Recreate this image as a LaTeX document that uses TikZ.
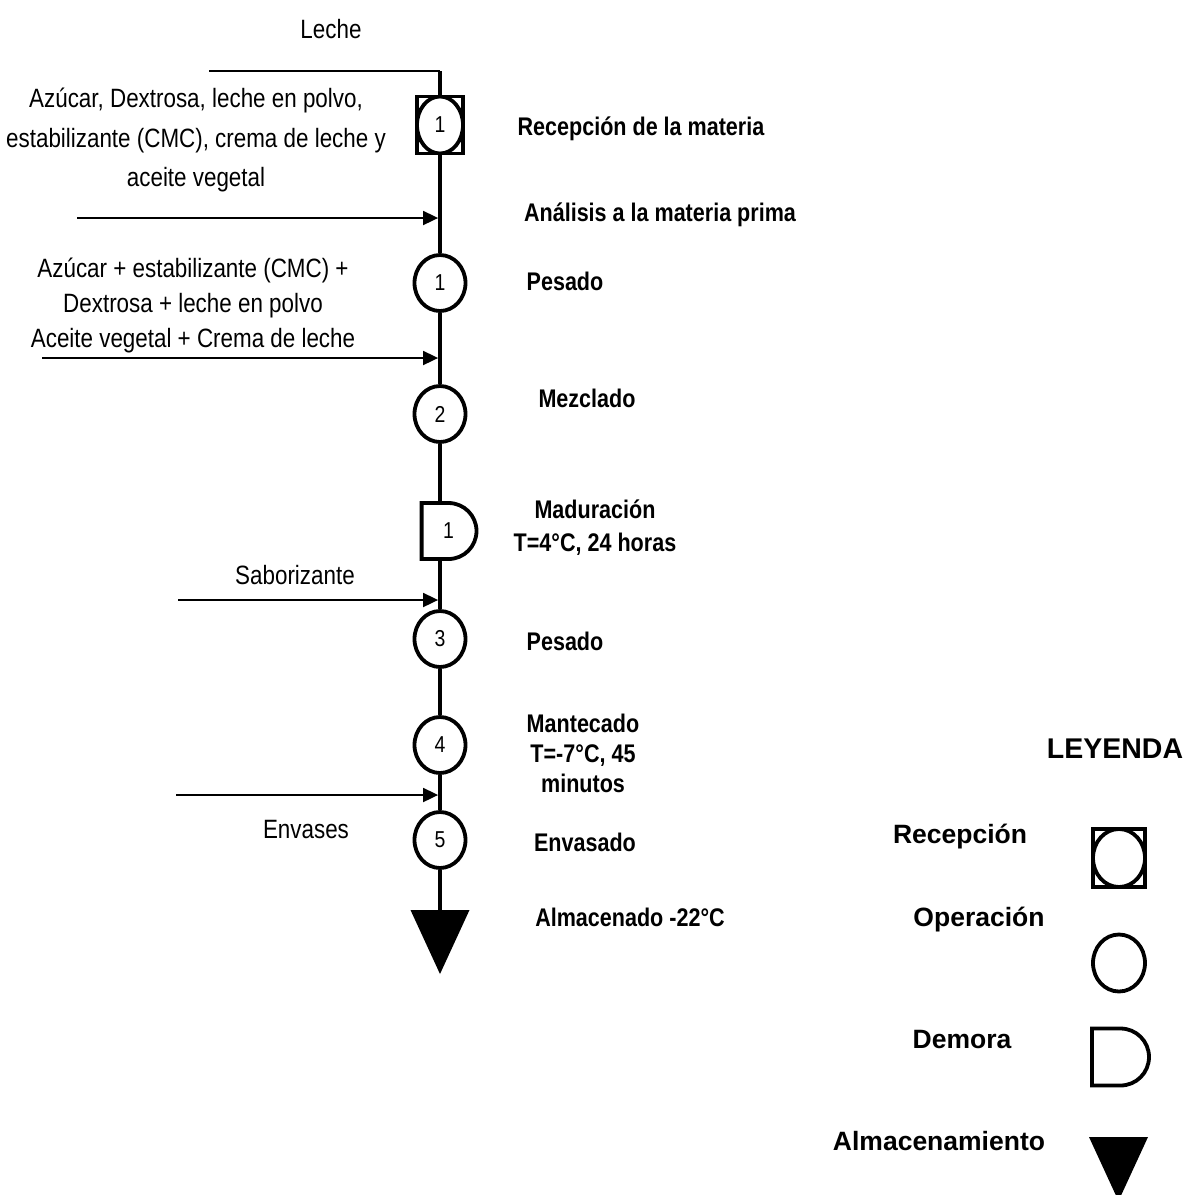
\documentclass[tikz,border=0pt]{standalone}
\usepackage{fontspec}
\setmainfont{Liberation Sans}
\newfontfamily\angosta[FakeStretch=0.845]{Liberation Sans}
\usetikzlibrary{arrows.meta,shapes.geometric,shapes.misc}
\newcommand{\Insumo}{\angosta\fontsize{26.5}{39.5}\selectfont}
\newcommand{\Paso}{\angosta\bfseries\fontsize{25.5}{33}\selectfont}
\newcommand{\Num}{\angosta\fontsize{23}{26}\selectfont}
\newcommand{\Ley}{\bfseries\fontsize{26.5}{30}\selectfont}

\begin{document}
\begin{tikzpicture}[x=1pt,y=-1pt,
  linea/.style={line width=3.8pt},
  entrada/.style={line width=1.8pt,-{Triangle[length=15pt,width=14pt]},shorten >=1.9pt},
  recep/.style 2 args={rectangle,draw,line width=3.8pt,fill=white,inner sep=0pt,
    minimum width=#1,minimum height=#2,font=\Num,
    path picture={\draw[line width=3.8pt] (path picture bounding box.center)
      ellipse [x radius=#1/2,y radius=#2/2];}},
  oper/.style={ellipse,draw,line width=3.8pt,fill=white,inner sep=0pt,
    minimum width=51pt,minimum height=56pt,font=\Num},
  demora/.style={rounded rectangle,rounded rectangle west arc=none,draw,
    line width=3.8pt,fill=white,inner sep=0pt,minimum width=51pt,
    minimum height=56pt,font=\Num},
  almac/.style={rectangle,inner sep=0pt,minimum width=59pt,minimum height=64pt,
    path picture={\fill (path picture bounding box.north west)
      -- (path picture bounding box.north east)
      -- (path picture bounding box.south) -- cycle;}},
  insumo/.style={font=\Insumo,inner sep=0pt,align=center},
  paso/.style={font=\Paso,inner sep=0pt,align=center},
  leyenda/.style={font=\Ley,inner sep=0pt}]
\useasboundingbox (0,0) rectangle (1189,1195);

\node[insumo] (t-leche) at (331,29) {Leche};
\node[insumo] (t-ins1) at (196,140) {Azúcar, Dextrosa, leche en polvo,\\
  estabilizante (CMC), crema de leche y\\aceite vegetal};
\node[insumo] (t-ins2) at (193,305) {Azúcar + estabilizante (CMC) +\\[-4.5pt]
  Dextrosa + leche en polvo\\[-4.5pt]Aceite vegetal + Crema de leche};
\node[insumo] (t-sab) at (295,575) {Saborizante};
\node[insumo] (t-env) at (306,830) {Envases};

\node[recep={46pt}{57pt}] (rec-1) at (440,125) {1};
\node[oper] (op-1) at (440,283) {1};
\node[oper] (op-2) at (440,414) {2};
\node[demora] (dly-1) at (448.5,531) {1};
\node[oper] (op-3) at (440,639) {3};
\node[oper] (op-4) at (440,745) {4};
\node[oper] (op-5) at (440,840) {5};
\node[almac] (alm-1) at (440,942) {};

\node[paso] (p-rec) at (641,129) {Recepción de la materia};
\node[paso] (p-ana) at (660,215) {Análisis a la materia prima};
\node[paso] (p-pes1) at (565,281) {Pesado};
\node[paso] (p-mez) at (587,398) {Mezclado};
\node[paso] (p-mad) at (595,528) {Maduración\\T=4°C, 24 horas};
\node[paso] (p-pes2) at (565,641) {Pesado};
\node[paso] (p-man) at (583,753) {Mantecado\\[-3pt]T=-7°C, 45\\[-3pt]minutos};
\node[paso] (p-env) at (585,842) {Envasado};
\node[paso] (p-alm) at (630,917) {Almacenado -22°C};

\node[leyenda,font=\bfseries\fontsize{28.5}{32}\selectfont] (ley) at (1115,749) {LEYENDA};
\node[leyenda] (l-rec) at (960,837) {Recepción};
\node[leyenda] (l-op) at (979,920) {Operación};
\node[leyenda] (l-dem) at (962,1039) {Demora};
\node[leyenda] (l-alm) at (939,1141) {Almacenamiento};
\node[recep={52pt}{58pt}] (s-rec) at (1119,858) {};
\node[oper,minimum width=52pt,minimum height=57pt] (s-op) at (1119,963) {};
\node[demora,minimum width=53pt,minimum height=57pt] (s-dem) at (1120.5,1057) {};
\node[almac] (s-alm) at (1118.5,1169) {};

\coordinate (lec-0) at (209,71);
\coordinate (lec-1) at (440,71);
\coordinate (in-1) at (77,218);
\coordinate (in-2) at (42,358);
\coordinate (in-3) at (178,600);
\coordinate (in-4) at (176,795);

\draw[line width=1.8pt] (lec-0) -- (lec-1);
\draw[linea] (lec-1) -- (rec-1.north);
\draw[linea] (rec-1.south) -- (op-1.north);
\draw[linea] (op-1.south) -- (op-2.north);
\draw[linea] (op-2.south) -- (op-2.south |- dly-1.north);
\draw[linea] (op-2 |- dly-1.south) -- (op-3.north);
\draw[linea] (op-3.south) -- (op-4.north);
\draw[linea] (op-4.south) -- (op-5.north);
\draw[linea] (op-5.south) -- (alm-1.north);

\draw[entrada] (in-1) -- (in-1 -| rec-1);
\draw[entrada] (in-2) -- (in-2 -| op-1);
\draw[entrada] (in-3) -- (in-3 -| op-3);
\draw[entrada] (in-4) -- (in-4 -| op-4);
\end{tikzpicture}
\end{document}
